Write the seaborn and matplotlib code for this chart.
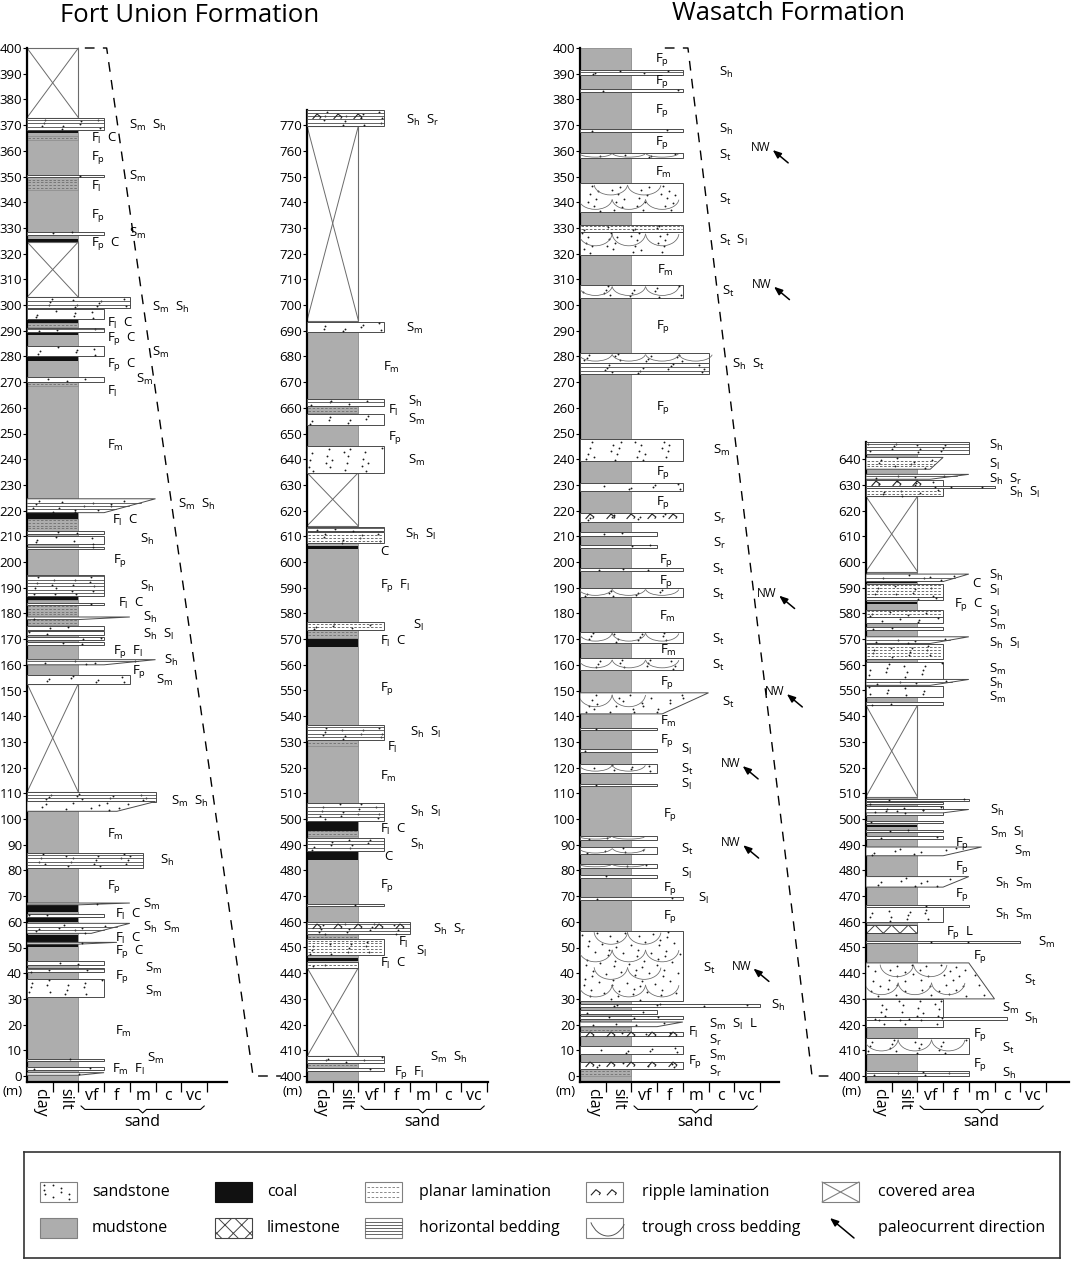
import numpy as np
import matplotlib
matplotlib.use("Agg")
import matplotlib.pyplot as plt
import seaborn as sns
from matplotlib.patches import Polygon, Rectangle, Arc
from matplotlib.path import Path
from matplotlib.lines import Line2D
from matplotlib.transforms import blended_transform_factory

# grain size axis: clay=0-1, silt=1-2, vf=2-3, f=3-4, m=4-5, c=5-6, vc=6-7
grain_classes = ["clay", "silt", "vf", "f", "m", "c", "vc"]

# beds: (bottom m, top m, grain at top, grain at bottom, kind)
# kind: S = sandstone (+ h horizontal, p planar, r ripple, t trough), coal, lam, lime, cov
fu_lower_beds = [
    (372.9, 400.0, 2, 2, "cov"), (368.1, 372.9, 3, 3, "Sh"), (366.8, 367.7, 2, 2, "coal"),
    (364.1, 365.8, 2, 2, "lam"), (349.9, 350.7, 3, 3, "S"), (344.6, 349.7, 2, 2, "lam"),
    (327.2, 328.5, 3, 3, "S"), (324.7, 325.6, 2, 2, "coal"), (303.0, 324.6, 2, 2, "cov"),
    (298.8, 303.0, 4, 4, "Sh"), (294.5, 298.4, 3, 3, "S"), (293.1, 294.4, 2, 2, "coal"),
    (291.5, 293.1, 2, 2, "lam"), (289.3, 291.2, 3, 3, "Sh"), (288.4, 289.3, 2, 2, "coal"),
    (280.1, 284.1, 3, 3, "S"), (278.4, 280.1, 2, 2, "coal"), (270.1, 271.9, 3, 3, "S"),
    (268.4, 270.1, 2, 2, "lam"), (219.2, 224.6, 5, 3, "Sh"), (216.7, 218.9, 2, 2, "coal"),
    (212.2, 216.7, 2, 2, "lam"), (210.9, 212.2, 3, 3, "S"), (206.9, 210.2, 3, 3, "S"),
    (205.2, 206.0, 3, 3, "S"), (186.6, 194.9, 3, 3, "Sh"), (185.1, 186.4, 2, 2, "coal"),
    (175.4, 185.1, 2, 2, "lam"), (183.1, 184.1, 3, 3, "S"), (177.6, 178.6, 4, 2, "Sh"),
    (173.6, 175.1, 3, 3, "Sh"), (171.5, 173.0, 3, 3, "Sh"), (169.5, 170.8, 3, 3, "Sh"),
    (167.6, 169.0, 3, 3, "Sh"), (160.0, 162.0, 5, 3, "Sh"), (152.7, 155.9, 4, 4, "S"),
    (110.4, 152.7, 2, 2, "cov"), (106.8, 110.4, 5, 5, "Sh"), (103.0, 106.8, 5, 3.5, "S"),
    (80.8, 86.8, 4.5, 4.5, "Sh"), (66.6, 67.3, 4, 2, "S"), (63.7, 66.6, 2, 2, "coal"),
    (62.0, 63.1, 3, 3, "S"), (59.8, 62.0, 2, 2, "coal"), (55.5, 59.4, 4, 2.5, "Sh"),
    (52.2, 54.8, 2, 2, "coal"), (51.3, 52.0, 3.5, 2, "S"), (50.1, 51.2, 2, 2, "coal"),
    (43.2, 44.7, 3, 3, "S"), (40.3, 42.0, 3, 3, "Sh"), (30.9, 37.7, 3, 3, "S"),
    (5.9, 6.8, 3, 3, "S"), (2.3, 3.5, 3, 3, "S"), (0.3, 1.3, 3, 2, "S"),
]
fu_upper_beds = [
    (769.7, 775.9, 3, 3, "Shr"), (693.9, 769.7, 2, 2, "cov"), (689.4, 693.5, 3, 3, "S"),
    (660.8, 663.6, 3, 3, "Sh"), (657.9, 660.8, 2, 2, "lam"), (653.4, 657.5, 3, 3, "S"),
    (634.8, 645.2, 3, 3, "S"), (614.0, 634.8, 2, 2, "cov"), (612.0, 613.7, 3, 3, "Sh"),
    (607.2, 611.6, 3, 3, "Sp"), (604.9, 606.2, 2, 2, "coal"), (573.5, 576.7, 3, 3, "Sp"),
    (570.6, 573.5, 2, 2, "lam"), (566.9, 570.2, 2, 2, "coal"), (528.5, 530.6, 2, 2, "lam"),
    (530.6, 536.4, 3, 3, "Sh"), (499.3, 506.2, 3, 3, "Sh"), (495.4, 499.3, 2, 2, "coal"),
    (493.2, 495.4, 2, 2, "lam"), (487.5, 492.5, 3, 3, "Sh"), (484.2, 487.2, 2, 2, "coal"),
    (466.2, 467.0, 3, 3, "Sp"), (455.1, 460.1, 4, 4, "Shr"), (453.2, 455.1, 2, 2, "lam"),
    (447.2, 453.2, 3, 3, "Sp"), (444.6, 445.8, 2, 2, "coal"), (442.2, 444.3, 2, 2, "Sp"),
    (407.6, 442.2, 2, 2, "cov"), (405.0, 407.6, 3, 3, "Sh"), (403.3, 405.0, 2, 2, "lam"),
    (402.0, 403.0, 3, 3, "S"),
]
wa_lower_beds = [
    (389.5, 391.5, 4, 4, "Sh"), (382.9, 384.0, 4, 4, "S"), (367.5, 368.5, 4, 4, "S"),
    (357.1, 359.3, 4, 4, "St"), (336.1, 347.3, 4, 4, "St"), (319.3, 328.5, 4, 4, "St"),
    (328.5, 331.1, 4, 4, "Sp"), (302.7, 307.8, 4, 4, "St"), (277.4, 281.3, 5, 5, "St"),
    (273.2, 277.4, 5, 5, "Sh"), (239.3, 247.9, 4, 4, "S"), (227.8, 230.8, 4, 4, "S"),
    (215.7, 219.1, 4, 4, "Sr"), (210.2, 211.5, 3, 3, "S"), (205.6, 206.8, 3, 3, "S"),
    (196.4, 197.8, 4, 4, "S"), (186.3, 189.9, 4, 4, "St"), (168.3, 172.9, 4, 4, "St"),
    (157.9, 162.5, 4, 4, "St"), (140.9, 149.1, 5, 3.2, "St"), (134.6, 135.4, 3, 3, "S"),
    (126.2, 127.1, 3, 3, "S"), (117.9, 121.5, 3, 3, "St"), (112.7, 113.5, 3, 3, "S"),
    (91.9, 93.4, 3, 3, "St"), (86.2, 89.0, 3, 3, "St"), (81.1, 82.6, 3, 3, "St"),
    (77.2, 78.2, 3, 3, "S"), (68.6, 69.6, 4, 4, "S"), (29.3, 56.6, 4, 4, "St"),
    (26.8, 28.2, 7, 7, "S"), (24.2, 25.6, 3, 3, "S"), (22.0, 23.5, 4, 4, "S"),
    (19.2, 21.0, 4, 3, "S"), (17.0, 19.0, 2, 2, "lam"), (15.6, 17.0, 4, 4, "Sr"),
    (8.6, 11.5, 4, 4, "S"), (2.9, 5.5, 4, 4, "Sr"), (0.0, 2.9, 2, 2, "lam"),
]
wa_upper_beds = [
    (642.2, 646.5, 4, 4, "Sh"), (636.1, 640.7, 3, 2.5, "Sp"), (632.2, 634.1, 4, 2.5, "Sh"),
    (628.7, 631.8, 3, 3, "Sr"), (628.9, 629.6, 5, 5, "S"), (625.5, 628.7, 3, 3, "Sp"),
    (596.3, 625.5, 2, 2, "cov"), (592.4, 595.3, 4, 3, "Sh"), (591.8, 592.4, 2, 2, "coal"),
    (586.5, 591.4, 3, 3, "Sp"), (585.2, 586.5, 3, 3, "S"), (583.5, 584.6, 2, 2, "coal"),
    (578.7, 581.3, 3, 3, "Sp"), (576.1, 578.7, 3, 3, "S"), (573.5, 574.8, 3, 3, "S"),
    (568.3, 570.9, 4, 2.5, "Sh"), (562.4, 567.9, 3, 3, "Sp"), (554.6, 561.1, 3, 3, "S"),
    (552.0, 554.3, 4, 2.5, "Sh"), (547.4, 551.7, 3, 3, "S"), (544.2, 545.5, 3, 3, "S"),
    (508.7, 544.2, 2, 2, "cov"), (507.0, 507.9, 4, 4, "S"), (505.7, 506.6, 3, 3, "S"),
    (501.7, 505.0, 3, 3, "S"), (502.4, 503.7, 4, 3, "Sh"), (498.5, 499.1, 3, 3, "S"),
    (496.8, 497.7, 2, 2, "coal"), (494.8, 495.9, 3, 3, "S"), (492.2, 493.3, 3, 3, "S"),
    (485.7, 489.1, 4.5, 3, "S"), (473.5, 477.6, 4, 3, "S"), (465.9, 466.5, 4, 4, "S"),
    (460.0, 465.6, 3, 3, "S"), (455.5, 458.7, 2, 2, "lime"), (451.9, 452.5, 6, 6, "S"),
    (430.0, 444.0, 4, 5, "St"), (419.0, 430.0, 3, 3, "S"), (421.8, 422.9, 5.5, 5.5, "S"),
    (408.5, 414.8, 4, 4, "St"), (400.0, 402.0, 4, 4, "Sh"),
]

# facies codes: (depth m, code, grain-axis position)
fu_lower_labels = [
    (370, "Sm Sh", 3.95), (365, "Fl C", 2.5), (357.3, "Fp", 2.5), (350, "Sm", 3.95),
    (346, "Fl", 2.5), (335, "Fp", 2.5), (328, "Sm", 3.95), (324, "Fp C", 2.5),
    (299, "Sm Sh", 4.85), (293, "Fl C", 3.1), (287, "Fp C", 3.1), (281.4, "Sm", 4.85),
    (277, "Fp C", 3.1), (271, "Sm", 4.26), (266.4, "Fl", 3.1), (245.5, "Fm", 3.1),
    (222.2, "Sm Sh", 5.87), (216, "Fl C", 3.3), (208.6, "Sh", 4.39), (200.7, "Fp", 3.35),
    (190.6, "Sh", 4.39), (184, "Fl C", 3.55), (178.3, "Sh", 4.5), (171.8, "Sh Sl", 4.5),
    (165.3, "Fp Fl", 3.35), (161.7, "Sh", 5.35), (157.4, "Fp", 4.1), (153.8, "Sm", 5.03),
    (107, "Sm Sh", 5.6), (93.8, "Fm", 3.12), (83.7, "Sh", 5.16), (73.6, "Fp", 3.12),
    (66.6, "Sm", 4.5), (62.7, "Fl C", 3.42), (57.7, "Sh Sm", 4.5), (53.6, "Fl C", 3.42),
    (48.3, "Fp C", 3.42), (42, "Sm", 4.58), (38.9, "Fp", 3.42), (33, "Sm", 4.58),
    (17.2, "Fm", 3.42), (7, "Sm", 4.65), (2.7, "Fm Fl", 3.3),
]
fu_upper_labels = [
    (772, "Sh Sr", 3.85), (691, "Sm", 3.85), (675.7, "Fm", 2.97), (662.3, "Sh", 3.94),
    (658.8, "Fl", 3.14), (655.3, "Sm", 3.94), (648.4, "Fp", 3.14), (639.7, "Sm", 3.94),
    (610.7, "Sh Sl", 3.8), (604.2, "C", 2.84), (590.8, "Fp Fl", 2.84), (575.3, "Sl", 4.13),
    (569, "Fl C", 2.84), (550.8, "Fp", 2.84), (533.5, "Sh Sl", 4.0), (528, "Fl", 3.1),
    (516.7, "Fm", 2.84), (503, "Sh Sl", 4.0), (495.8, "Fl C", 2.84), (490, "Sh", 4.0),
    (485.3, "C", 3.0), (474.2, "Fp", 2.84), (457, "Sh Sr", 4.9), (451.8, "Fl", 3.55),
    (448.3, "Sl", 4.23), (443.6, "Fl C", 2.84), (407.2, "Sm Sh", 4.77), (401.2, "Fp Fl", 3.38),
]
wa_lower_labels = [
    (395.4, "Fp", 2.9), (390.6, "Sh", 5.42), (386.9, "Fp", 2.9), (375.7, "Fp", 2.9),
    (368.5, "Sh", 5.42), (363.3, "Fp", 2.9), (358.3, "St", 5.42), (351.5, "Fm", 2.9),
    (341, "St", 5.42), (325.2, "St  Sl", 5.42), (313.4, "Fm", 3.0), (305.3, "St", 5.52),
    (291.8, "Fp", 2.95), (276.7, "Sh St", 5.9), (260.3, "Fp", 2.95), (243.3, "Sm", 5.16),
    (234.8, "Fp", 2.95), (223.3, "Fp", 2.95), (217, "Sr", 5.16), (207.2, "Sr", 5.16),
    (200.7, "Fp", 3.07), (197, "St", 5.13), (192.5, "Fp", 3.07), (187.3, "St", 5.13),
    (178.7, "Fm", 3.07), (170, "St", 5.13), (165.4, "Fm", 3.12), (159.7, "St", 5.13),
    (153.2, "Fp", 3.12), (145.2, "St", 5.52), (137.8, "Fm", 3.12), (130.5, "Fp", 3.12),
    (127.2, "Sl", 3.94), (119.3, "St", 3.94), (113.3, "Sl", 3.94), (101.7, "Fp", 3.23),
    (88, "St", 3.94), (78.7, "Sl", 3.94), (72.9, "Fp", 3.23), (68.9, "Sl", 4.6),
    (62, "Fp", 3.23), (41.8, "St", 4.77), (27.4, "Sh", 7.42), (20.2, "Sm Sl L", 5.03),
    (17, "Fl", 4.19), (13.8, "Sr", 5.03), (8.1, "Sm", 5.03), (5.5, "Fp", 4.19),
    (1.9, "Sr", 5.03),
]
wa_upper_labels = [
    (645.2, "Sh", 4.77), (638, "Sl", 4.77), (632.2, "Sh Sr", 4.77), (627.2, "Sh Sl", 5.55),
    (594.8, "Sh", 4.77), (591.8, "C", 4.15), (588.8, "Sl", 4.77), (583.3, "Fp C", 3.43),
    (580.7, "Sl", 4.77), (575.7, "Sm", 4.77), (568.3, "Sh  Sl", 4.77), (558.3, "Sm", 4.77),
    (552.6, "Sh", 4.77), (547.2, "Sm", 4.77), (503.4, "Sh", 4.83), (494.8, "Sm Sl", 4.83),
    (490.4, "Fp", 3.47), (487.4, "Sm", 5.77), (481.3, "Fp", 3.47), (474.8, "Sh Sm", 5.03),
    (470.5, "Fp", 3.47), (463, "Sh Sm", 5.03), (455.7, "Fp L", 3.12), (451.8, "Sm", 6.71),
    (446.6, "Fp", 4.18), (437, "St", 6.13), (426.1, "Sm", 5.29), (422.2, "Sh", 6.13),
    (416.1, "Fp", 4.18), (410.9, "St", 5.29), (404.6, "Fp", 4.18), (401, "Sh", 5.29),
]
# paleocurrent (NW) marks: (depth m, grain-axis position)
wa_lower_arrows = [(360.7, 6.65), (307.5, 6.7), (187.3, 6.9), (149, 7.2),
                   (121, 5.48), (90.2, 5.5), (42.2, 5.9)]

legend_labels = ["sandstone", "mudstone", "coal", "limestone", "planar lamination",
                 "horizontal bedding", "ripple lamination", "trough cross bedding",
                 "covered area", "paleocurrent direction"]

sns.set_style("ticks")
plt.rcParams["font.family"] = ["Open Sans", "DejaVu Sans"]
plt.rcParams["mathtext.fontset"] = "custom"
plt.rcParams["mathtext.rm"] = "Open Sans"
plt.rcParams["hatch.linewidth"] = 0.7
plt.rcParams["text.color"] = "black"
plt.rcParams["ytick.color"] = "black"
plt.rcParams["xtick.color"] = "black"

W, H = 1072, 1264
U = 25.7     # px per grain class
K = 2.57     # px per metre
LOW = 2.5    # metres between base and x axis line
MUD = "#adadad"
EDGE = "#4a4a4a"
RIPPLE = Path([(-1, -0.5), (-0.1, 0.5), (0.7, -0.1), (0.45, -0.45)])
R2A, R2B = 0.7548776662, 0.5698402910   # low-discrepancy steps for the sand stipple

fig = plt.figure(figsize=(W / 100, H / 100), dpi=100)


def facies_text(s):
    out = []
    for tok in s.split():
        if len(tok) == 2:
            out.append(tok[0] + r"$_{\mathregular{" + tok[1] + "}}$")
        else:
            out.append(tok)
    return "  ".join(out)


def edge_at(y, b, t, gt, gb):
    return gb + (gt - gb) * (y - b) / (t - b)


def stipple(n, seed):
    k = np.arange(1, n + 1)
    return (seed + k * R2A) % 1, (seed * 1.7 + k * R2B) % 1


def draw_sand(ax, b, t, gt, gb, kind):
    verts = [(0, b), (gb, b), (gt, t), (0, t)]
    ax.add_patch(Polygon(verts, closed=True, facecolor="white", edgecolor=EDGE, lw=0.7, zorder=3))
    th = t - b
    area = th * K * (gt + gb) / 2 * U
    n = int(area / 100)
    if n == 0 and th > 0.6:
        n = 2
    if n:
        fx, fy = stipple(n, (b * 0.137) % 1)
        ys = b + 0.25 + fy * max(th - 0.5, 0.05)
        xs = 0.06 + fx * (edge_at(ys, b, t, gt, gb) - 0.12)
        ax.scatter(xs, ys, s=1.8, c="#1a1a1a", lw=0, zorder=3.15)
    if "h" in kind:
        for y in np.arange(b + 1.3, t - 0.4, 1.3):
            ax.plot([0, edge_at(y, b, t, gt, gb)], [y, y], color=EDGE, lw=0.6, zorder=3.2)
    if "p" in kind:
        for y in np.arange(b + 1.1, t - 0.3, 1.1):
            ax.plot([0.05, edge_at(y, b, t, gt, gb) - 0.05], [y, y], color="#555555", lw=0.6,
                    ls=(0, (3, 2)), zorder=3.2)
    if "r" in kind:
        xs = np.arange(0.4, min(gt, gb) - 0.2, 0.8)
        y = b + 0.62 * th
        ax.plot(xs, [y] * len(xs), ls="", marker=RIPPLE, ms=7, mfc="none", mec="#222222",
                mew=0.8, zorder=3.3)
    if "t" in kind:
        rows = max(1, int(round(th / 7)))
        rh = th / rows
        xr = min(gt, gb)
        for r in range(rows):
            yc = b + (r + 0.95) * rh
            h = min(1.5 * rh, 10)
            off = 0.6 * (r % 2)
            for xc in np.arange(0.6 + off, xr - 0.4, 1.3):
                ax.add_patch(Arc((xc, yc), 1.3, h, theta1=205, theta2=325, color="#666666",
                                 lw=0.55, zorder=3.2))


def draw_bed(ax, b, t, gt, gb, kind):
    if kind == "cov":
        ax.add_patch(Rectangle((0, b), 2, t - b, facecolor="white", edgecolor="#6b6b6b",
                               lw=0.8, zorder=2))
        ax.plot([0, 2], [b, t], color="#6b6b6b", lw=0.7, zorder=2.1)
        ax.plot([0, 2], [t, b], color="#6b6b6b", lw=0.7, zorder=2.1)
    elif kind == "coal":
        ax.add_patch(Rectangle((0, b), 2, t - b, facecolor="#111111", edgecolor="none", zorder=2))
    elif kind == "lam":
        ax.add_patch(Rectangle((0, b), 2, t - b, facecolor=MUD, edgecolor="#8a8a8a",
                               lw=0.5, zorder=2))
        for y in np.arange(b + 0.9, t - 0.2, 1.1):
            ax.plot([0.05, 1.95], [y, y], color="#6e6e6e", lw=0.6, ls=(0, (3, 2)), zorder=2.1)
    elif kind == "lime":
        ax.add_patch(Rectangle((0, b), 2, t - b, facecolor="white", edgecolor="#444444",
                               lw=0.7, hatch="xx", zorder=2))
    else:
        draw_sand(ax, b, t, gt, gb, kind)


def add_column(left_px, base, top, tick_top, xmax, beds, labels, arrows):
    ah = (402 + LOW) * K
    bottom_px = 48 + (400 + LOW) * K
    ax = fig.add_axes([left_px / W, (H - bottom_px) / H, xmax * U / W, ah / H])
    ax.set_xlim(0, xmax)
    ax.set_ylim(base - LOW, base + 402)
    ax.patch.set_alpha(0)
    sns.despine(ax=ax)
    ax.spines["left"].set_bounds(base - LOW, top)
    for side in ["left", "bottom"]:
        ax.spines[side].set_linewidth(1.6)
        ax.spines[side].set_color("black")
    ax.set_yticks(np.arange(base, tick_top + 1, 10))
    ax.set_xticks(np.arange(1, 8))
    ax.set_xticklabels([])
    ax.tick_params(axis="y", direction="out", length=3, width=0.8, labelsize=9.5, pad=0.5,
                   left=True)
    ax.tick_params(axis="x", direction="out", length=7, width=0.9, bottom=True)

    ax.add_patch(Rectangle((0, base - LOW), 2, top - base + LOW, facecolor=MUD,
                           edgecolor="#8a8a8a", lw=0.6, zorder=1))
    for b, t, gt, gb, kind in beds:
        draw_bed(ax, b, t, gt, gb, kind)

    for d, s, x in labels:
        ax.text(x, d, facies_text(s), ha="left", va="center", fontsize=9.5, zorder=5)
    for d, x in arrows:
        ax.text(x, d + 0.5, "NW", ha="left", va="center", fontsize=8.5, zorder=5)
        ax.annotate("", xy=(x + 0.85, d - 0.4), xytext=(x + 1.45, d - 5.4),
                    arrowprops=dict(arrowstyle="-|>,head_length=0.5,head_width=0.2",
                                    color="black", lw=1.1, shrinkA=0, shrinkB=0),
                    annotation_clip=False)

    for i, name in enumerate(grain_classes):
        ax.annotate(name, (i + 0.5, 0), xycoords=("data", "axes fraction"), xytext=(0, -4),
                    textcoords="offset points", ha="center", va="top",
                    rotation=-90 if i < 2 else 0, fontsize=11.5, annotation_clip=False)
    tr = blended_transform_factory(ax.transData, ax.transAxes)
    yb = -27 / ah
    dd = 3.5 / ah
    ax.plot([2.1, 2.25, 4.35, 4.5, 4.65, 6.75, 6.9],
            [yb + dd, yb, yb, yb - dd, yb, yb, yb + dd],
            transform=tr, color="black", lw=0.8, clip_on=False)
    ax.annotate("sand", (4.5, yb - dd), xycoords=tr, xytext=(0, -0.5),
                textcoords="offset points", ha="center", va="top", fontsize=11.5,
                annotation_clip=False)
    ax.annotate("(m)", (0, 0), xycoords="axes fraction", xytext=(-3, -1.5),
                textcoords="offset points", ha="right", va="top", fontsize=9.5,
                annotation_clip=False)
    return ax


ax1 = add_column(27, 0, 400, 400, 7.8, fu_lower_beds, fu_lower_labels, [])
ax2 = add_column(307, 400, 775.9, 770, 7.05, fu_upper_beds, fu_upper_labels, [])
ax3 = add_column(580, 0, 400, 400, 7.75, wa_lower_beds, wa_lower_labels, wa_lower_arrows)
ax4 = add_column(866, 400, 646.5, 640, 7.9, wa_upper_beds, wa_upper_labels, [])


def fig_point(ax, x, y):
    return fig.transFigure.inverted().transform(ax.transData.transform((x, y)))


for a, b, xa, xb in [(ax1, ax2, (2.25, 3.1), (-2.1, -1.0)), (ax3, ax4, (3.3, 4.2), (-2.1, -1.2))]:
    pts = np.array([fig_point(a, xa[0], 400), fig_point(a, xa[1], 400),
                    fig_point(b, xb[0], 400), fig_point(b, xb[1], 400)])
    fig.add_artist(Line2D(pts[:, 0], pts[:, 1], transform=fig.transFigure, color="black",
                          lw=1.0, ls=(0, (7, 6))))

title_font = ["Liberation Sans Narrow", "Open Sans", "DejaVu Sans"]
fig.text(190 / W, 1 - 15 / H, "Fort Union Formation", ha="center", va="center",
         fontsize=18.5, family=title_font)
fig.text(788 / W, 1 - 13 / H, "Wasatch Formation", ha="center", va="center",
         fontsize=18.5, family=title_font)

# legend box
lg = fig.add_axes([24 / W, 1 - 1258 / H, 1036 / W, 106 / H])
lg.set_xlim(0, 1036)
lg.set_ylim(106, 0)
lg.set_xticks([])
lg.set_yticks([])
for sp in lg.spines.values():
    sp.set_visible(True)
    sp.set_linewidth(1.2)
    sp.set_color("#333333")

sw_x = [16, 191, 341, 562, 798]
tx_x = [68, 243, 395, 618, 854]
row_y = [40, 76]
sw_w, sw_h = 37, 20
for k, name in enumerate(legend_labels):
    col, row = k // 2, k % 2
    x0, yc = sw_x[col], row_y[row]
    y0 = yc - sw_h / 2
    lg.text(tx_x[col], yc, name, ha="left", va="center", fontsize=11.5)
    if name == "paleocurrent direction":
        lg.annotate("", xy=(x0 + 8, yc - 10), xytext=(x0 + 32, yc + 10),
                    arrowprops=dict(arrowstyle="-|>,head_length=0.5,head_width=0.2",
                                    color="black", lw=1.1, shrinkA=0, shrinkB=0))
        continue
    face = {"mudstone": MUD, "coal": "#111111"}.get(name, "white")
    edge = {"coal": "#111111", "limestone": "#444444"}.get(name, "#808080")
    lg.add_patch(Rectangle((x0, y0), sw_w, sw_h, facecolor=face, edgecolor=edge, lw=0.8,
                           hatch="xx" if name == "limestone" else None))
    if name == "sandstone":
        fx, fy = stipple(9, 0.3)
        lg.scatter(x0 + 2 + fx * (sw_w - 4), y0 + 2 + fy * (sw_h - 4), s=1.8, c="#1a1a1a", lw=0)
    elif name == "planar lamination":
        for yy in [yc - 5, yc, yc + 5]:
            lg.plot([x0 + 2, x0 + sw_w - 2], [yy, yy], color="#777777", lw=0.6, ls=(0, (3, 2)))
    elif name == "horizontal bedding":
        for yy in [yc - 6, yc - 3, yc, yc + 3, yc + 6]:
            lg.plot([x0, x0 + sw_w], [yy, yy], color="#666666", lw=0.7)
    elif name == "ripple lamination":
        lg.plot([x0 + 10, x0 + 26], [yc, yc], ls="", marker=RIPPLE, ms=8, mfc="none",
                mec="#222222", mew=0.8)
    elif name == "trough cross bedding":
        lg.add_patch(Arc((x0 + 22, yc - 20), 40, 56, theta1=45, theta2=140, color="#555555",
                         lw=0.7))
    elif name == "covered area":
        lg.plot([x0, x0 + sw_w], [y0, y0 + sw_h], color="#808080", lw=0.8)
        lg.plot([x0, x0 + sw_w], [y0 + sw_h, y0], color="#808080", lw=0.8)

fig.savefig("out.png", dpi=100)
